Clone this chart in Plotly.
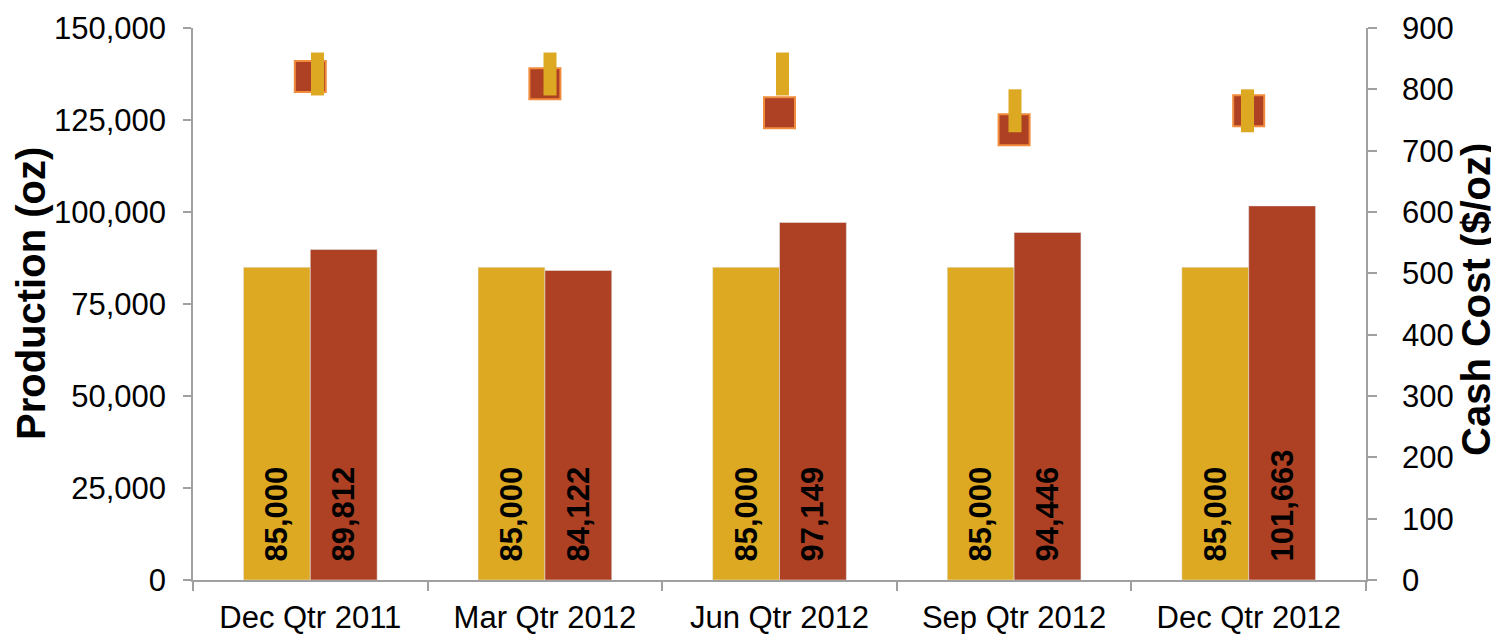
import plotly.graph_objects as go

quarters = ["Dec Qtr 2011", "Mar Qtr 2012", "Jun Qtr 2012", "Sep Qtr 2012", "Dec Qtr 2012"]
production_guidance = [85000, 85000, 85000, 85000, 85000]
production_actual = [89812, 84122, 97149, 94446, 101663]
cash_cost_actual = [821, 809, 762, 734, 765]
cash_cost_guidance_low = [790, 790, 790, 730, 730]
cash_cost_guidance_high = [860, 860, 860, 800, 800]

YELLOW = "#DDA922"
RED = "#AE4123"
FONT = "Liberation Sans, Arial, sans-serif"
PAD = "\u2002"

fig = go.Figure()
fig.add_trace(go.Bar(
    x=quarters, y=production_guidance, name="Production Guidance",
    marker=dict(color=YELLOW),
    text=[PAD + f"{v:,}" for v in production_guidance],
    textposition="inside", textangle=-90, insidetextanchor="start",
    textfont=dict(family=FONT, size=31, color="black", weight="bold"),
))
fig.add_trace(go.Bar(
    x=quarters, y=production_actual, name="Production Actual",
    marker=dict(color=RED),
    text=[PAD + f"{v:,}" for v in production_actual],
    textposition="inside", textangle=-90, insidetextanchor="start",
    textfont=dict(family=FONT, size=31, color="black", weight="bold"),
))
fig.add_trace(go.Scatter(
    x=quarters, y=cash_cost_actual, yaxis="y2", mode="markers",
    name="Cash Cost Actual",
    marker=dict(symbol="square", size=31, color=RED, line=dict(color="#F08C3C", width=2)),
))
for q, lo, hi in zip(quarters, cash_cost_guidance_low, cash_cost_guidance_high):
    fig.add_trace(go.Scatter(
        x=[q, q], y=[lo, hi], xaxis="x2", yaxis="y2", mode="lines",
        line=dict(color=YELLOW, width=13), showlegend=False,
        name="Cash Cost Guidance",
    ))

axis_line = "#A0A0A0"
# page body has an 8px offset; compensate so the plot area lands at 193..1366 x 28..580
OFF = 8
W, H = 1499, 634
L, R, T, B = 193 - OFF, 133 + OFF, 28 - OFF, 54 + OFF
pw, ph = W - L - R, H - T - B
VB = 580  # viewport y of plot bottom

fig.update_layout(
    width=W, height=H,
    margin=dict(l=L, r=R, t=T, b=B, autoexpand=False),
    paper_bgcolor="white", plot_bgcolor="white",
    barmode="group", bargap=0.43, bargroupgap=0,
    showlegend=False,
    font=dict(family=FONT, size=31, color="black"),
    xaxis=dict(
        showline=True, linecolor=axis_line, linewidth=1.5,
        ticks="outside", tickson="boundaries", ticklen=9, tickcolor=axis_line, tickwidth=1.5,
        tickfont=dict(size=31), showgrid=False, automargin=False, ticklabelstandoff=9,
    ),
    xaxis2=dict(
        overlaying="x", visible=False, range=[-0.5355, 4.5097],
        categoryorder="array", categoryarray=quarters,
    ),
    yaxis=dict(
        range=[0, 150000], dtick=25000, tickformat=",",
        showline=True, linecolor=axis_line, linewidth=1.5,
        ticks="outside", ticklen=8, tickcolor=axis_line, tickwidth=1.5,
        showgrid=False, zeroline=False, tickfont=dict(size=31),
        automargin=False, ticklabelstandoff=11,
    ),
    yaxis2=dict(
        range=[0, 900], dtick=100, overlaying="y", side="right",
        showline=True, linecolor=axis_line, linewidth=1.5,
        ticks="outside", ticklen=9, tickcolor=axis_line, tickwidth=1.5,
        showgrid=False, zeroline=False, tickfont=dict(size=31),
        automargin=False, ticklabelstandoff=19,
    ),
    annotations=[
        dict(text="<b>Production (oz)</b>", xref="paper", yref="paper",
             x=(31 - 193) / pw, y=(VB - 294) / ph, xanchor="center", yanchor="middle",
             textangle=-90, showarrow=False, font=dict(size=40)),
        dict(text="<b>Cash Cost ($/oz)</b>", xref="paper", yref="paper",
             x=(1476 - 193) / pw, y=(VB - 300) / ph, xanchor="center", yanchor="middle",
             textangle=-90, showarrow=False, font=dict(size=40)),
    ],
)

fig.write_html("out.html")
